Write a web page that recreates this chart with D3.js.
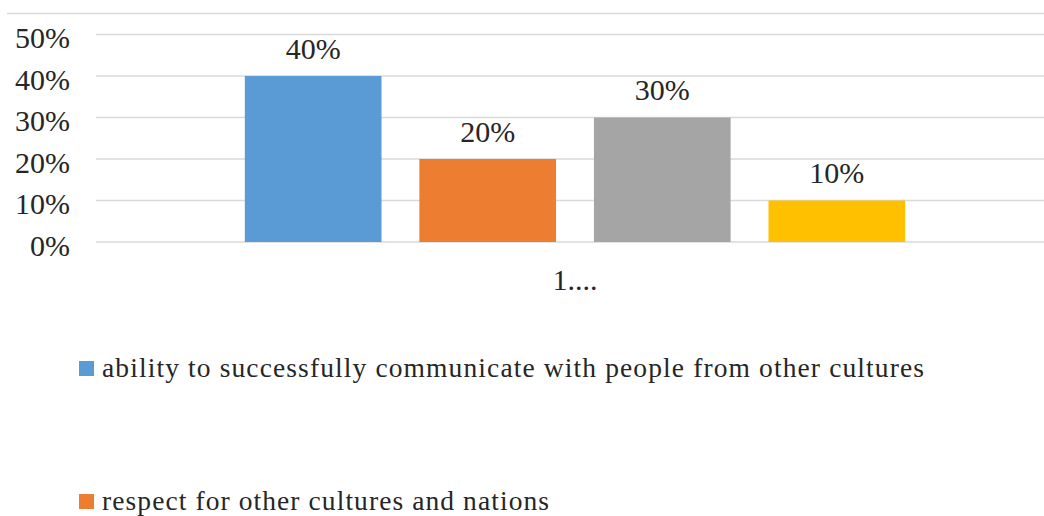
<!DOCTYPE html>
<html>
<head>
<meta charset="utf-8">
<script src="https://cdn.jsdelivr.net/npm/d3@7"></script>
<style>
  html, body { margin: 0; padding: 0; background: #fff; }
  svg { display: block; }
</style>
</head>
<body>
<svg id="chart" width="1044" height="516"></svg>
<script>
// ---- data ----
const categories = ["1...."];
const seriesValues = [0.40, 0.20, 0.30, 0.10];
const seriesColors = ["#5b9bd5", "#ed7d31", "#a5a5a5", "#ffc000"];
// legend entries visible in the picture (the rest fall below the frame)
const legendNames = [
  "ability to successfully communicate with people from other cultures",
  "respect for other cultures and nations"
];
const legendWidths = [822, 447];
const yTicks = [0, 0.1, 0.2, 0.3, 0.4, 0.5];

// ---- layout ----
const W = 1044, H = 516;
const FONT = '"Liberation Serif"';
const TXT = "#262626";
const plotLeft = 96, plotRight = 1044;
const svg = d3.select("#chart");

const y = d3.scaleLinear().domain([0, 0.5]).range([242, 34.5]);
const x0 = d3.scaleBand().domain(categories).range([96, 1054]).paddingInner(0).paddingOuter(0.186);
const x1 = d3.scaleBand().domain(d3.range(seriesValues.length))
  .range([0, x0.bandwidth()]).paddingInner(0.217).paddingOuter(0.1085);
const fmt = d3.format(".0%");

// top border line
svg.append("line").attr("x1", 7).attr("x2", W).attr("y1", 13.5).attr("y2", 13.5)
  .attr("stroke", "#d9d9d9").attr("stroke-width", 1.5);

// gridlines
svg.append("g").selectAll("line").data(yTicks).join("line")
  .attr("x1", plotLeft).attr("x2", plotRight)
  .attr("y1", d => y(d)).attr("y2", d => y(d))
  .attr("stroke", "#d9d9d9").attr("stroke-width", 1.5);

// y axis labels
const yAxis = d3.axisLeft(y).tickValues(yTicks).tickFormat(fmt).tickSize(0).tickPadding(0);
const gy = svg.append("g").attr("transform", "translate(70,0)").call(yAxis);
gy.select(".domain").remove();
gy.attr("font-family", null);
gy.selectAll("text")
  .style("font-family", FONT).style("font-size", "30px").style("fill", TXT)
  .attr("dy", 13);

// bars
const g = svg.append("g");
categories.forEach(cat => {
  const gx = g.append("g").attr("transform", `translate(${x0(cat)},0)`);
  gx.selectAll("rect").data(seriesValues).join("rect")
    .attr("x", (d, i) => x1(i)).attr("width", x1.bandwidth())
    .attr("y", d => y(d)).attr("height", d => y(0) - y(d))
    .attr("fill", (d, i) => seriesColors[i]);
  gx.selectAll("text.lbl").data(seriesValues).join("text")
    .attr("class", "lbl")
    .attr("x", (d, i) => x1(i) + x1.bandwidth() / 2)
    .attr("y", d => y(d) - 17.5)
    .attr("text-anchor", "middle")
    .style("font-family", FONT).style("font-size", "30px").style("fill", TXT)
    .text(d => fmt(d));
});

// category axis label
const xAxis = d3.axisBottom(x0).tickSize(0).tickPadding(0);
const gxA = svg.append("g").attr("transform", "translate(0,290)").call(xAxis);
gxA.select(".domain").remove();
gxA.attr("font-family", null);
gxA.selectAll("text")
  .style("font-family", FONT).style("font-size", "30px").style("fill", TXT).attr("dy", 0);

// legend
const legend = svg.append("g");
const li = legend.selectAll("g").data(legendNames).join("g")
  .attr("transform", (d, i) => `translate(79,${361 + i * 133})`);
li.append("rect").attr("width", 15).attr("height", 15)
  .attr("fill", (d, i) => seriesColors[i]);
li.append("text").attr("x", 23).attr("y", 15.5)
  .style("font-family", FONT).style("font-size", "27.5px").style("fill", TXT)
  .attr("textLength", (d, i) => legendWidths[i])
  .attr("lengthAdjust", "spacing")
  .text(d => d);
</script>
</body>
</html>
